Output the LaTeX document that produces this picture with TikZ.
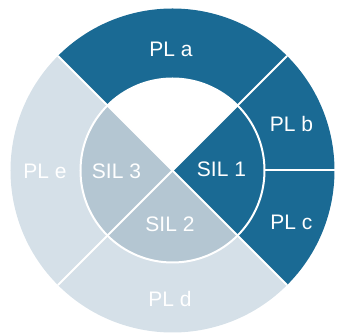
\documentclass[tikz,border=0pt]{standalone}
\usepackage{fontspec}
\setmainfont{Liberation Sans}
\usepackage{tikz}
\definecolor{pldark}{HTML}{1A6A94}
\definecolor{pllight}{HTML}{D5E0E8}
\definecolor{silmid}{HTML}{B4C6D2}

\begin{document}
\begin{tikzpicture}[x=1pt,y=1pt]

                \tikzstyle{lvl}  = [text=white, font=\fontsize{21}{25}\selectfont, inner sep=0pt]
                \tikzstyle{gap}  = [white, line width=2pt]
                \def\Rout{162}
                \def\Rin{92}
                \useasboundingbox (-172.5,-165.5) rectangle (164.5,170.5);

                % outer ring
                \fill [pldark] (0,0) -- (-45:\Rout) arc (-45:135:\Rout) -- cycle;
                \fill [pllight] (0,0) -- (135:\Rout) arc (135:315:\Rout) -- cycle;

                % inner circle
                \fill [white] (0,0) -- (45:\Rin) arc (45:135:\Rin) -- cycle;
                \fill [pldark] (0,0) -- (-45:\Rin) arc (-45:45:\Rin) -- cycle;
                \fill [silmid] (0,0) -- (135:\Rin) arc (135:315:\Rin) -- cycle;

                % white gaps
                \draw [gap] (0,0) circle (\Rin);
                \foreach \a in {45, 135}
                {
                        \draw [gap] (\a:\Rout) -- (\a+180:\Rout);
                }
                \draw [gap] (0:\Rin) -- (0:\Rout);

                % labels
                \node [lvl] (pla) at (-1.5,121.5) {PL a};
                \node [lvl] (plb) at (119,46.5) {PL b};
                \node [lvl] (plc) at (119,-52) {PL c};
                \node [lvl] (pld) at (-2.5,-128.5) {PL d};
                \node [lvl] (ple) at (-127.5,-0.5) {PL e};
                \node [lvl] (sil1) at (49,1.3) {SIL 1};
                \node [lvl] (sil2) at (-2.5,-53.5) {SIL 2};
                \node [lvl] (sil3) at (-56,-0.5) {SIL 3};
\end{tikzpicture}
\end{document}
